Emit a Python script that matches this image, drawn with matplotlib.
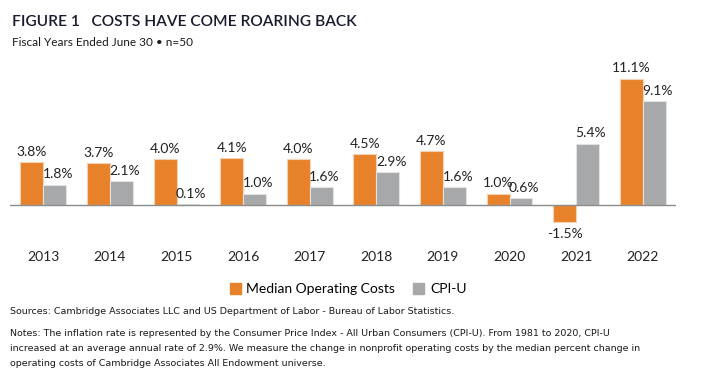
import numpy as np
import matplotlib
matplotlib.use('Agg')
import matplotlib.pyplot as plt
from matplotlib.transforms import blended_transform_factory
from matplotlib.patches import Patch

years = ['2013', '2014', '2015', '2016', '2017', '2018', '2019', '2020', '2021', '2022']
median_costs = [3.8, 3.7, 4.0, 4.1, 4.0, 4.5, 4.7, 1.0, -1.5, 11.1]
cpi_u = [1.8, 2.1, 0.1, 1.0, 1.6, 2.9, 1.6, 0.6, 5.4, 9.1]

orange = '#E8822A'
gray = '#A7A8AA'
W, H = 711, 381

plt.rcParams['font.family'] = ['Lato', 'DejaVu Sans']

fig = plt.figure(figsize=(W / 100, H / 100), dpi=100)
# axes placed in pixel terms: x 10..676, y 70..225 (from top)
ax = fig.add_axes([10 / W, 1 - 225 / H, 666 / W, 155 / H])

x = np.arange(len(years))
bw = 0.345
ax.bar(x - bw / 2, median_costs, bw, color=orange, edgecolor='#F6D2B4', linewidth=0.8)
ax.bar(x + bw / 2, cpi_u, bw, color=gray, edgecolor='#E2E2E3', linewidth=0.8)
ax.axhline(0, color='#8C8C8C', linewidth=1)

ax.set_xlim(-0.5, len(years) - 0.5)
ax.set_ylim(-1.75, 11.85)
ax.axis('off')

lab_fs = 10
for i, v in enumerate(median_costs):
    if v >= 0:
        ax.annotate(f'{v:.1f}%', (i - bw / 2, v), xytext=(0, 3), textcoords='offset points',
                    ha='center', va='bottom', fontsize=lab_fs, color='#222222')
    else:
        ax.annotate(f'{v:.1f}%', (i - bw / 2, v), xytext=(0, -4), textcoords='offset points',
                    ha='center', va='top', fontsize=lab_fs, color='#222222')
for i, v in enumerate(cpi_u):
    ax.annotate(f'{v:.1f}%', (i + bw / 2 + 0.05, v), xytext=(0, 3), textcoords='offset points',
                ha='center', va='bottom', fontsize=lab_fs, color='#222222')

trans = blended_transform_factory(ax.transData, fig.transFigure)
for i, yr in enumerate(years):
    ax.text(i, 1 - 257 / H, yr, transform=trans, ha='center', va='center',
            fontsize=lab_fs, color='#222222')

handles = [Patch(color=orange), Patch(color=gray)]
fig.legend(handles, ['Median Operating Costs', 'CPI-U'], loc='center',
           bbox_to_anchor=(348 / W, 1 - 289 / H), ncol=2, frameon=False,
           fontsize=10, handlelength=0.8, handleheight=0.8, handletextpad=0.4,
           columnspacing=1.3)

fig.text(12 / W, 1 - 22 / H, 'FIGURE 1   COSTS HAVE COME ROARING BACK',
         fontsize=11.2, color='#1a1a2e', va='center', ha='left', fontweight='semibold')
fig.text(12 / W, 1 - 42 / H, 'Fiscal Years Ended June 30 \u2022 n=50',
         fontsize=8.5, color='#1a1a1a', va='center', ha='left')

note_font = ['Liberation Sans Narrow', 'DejaVu Sans']
fig.text(10 / W, 1 - 312 / H,
         'Sources: Cambridge Associates LLC and US Department of Labor - Bureau of Labor Statistics.',
         fontsize=6.8, family=note_font, va='center', ha='left', color='#1a1a1a')
notes = ['Notes: The inflation rate is represented by the Consumer Price Index - All Urban Consumers (CPI-U). From 1981 to 2020, CPI-U',
         'increased at an average annual rate of 2.9%. We measure the change in nonprofit operating costs by the median percent change in',
         'operating costs of Cambridge Associates All Endowment universe.']
for k, line in enumerate(notes):
    fig.text(10 / W, 1 - (333 + 15.5 * k) / H, line, fontsize=6.8, family=note_font,
             va='center', ha='left', color='#1a1a1a')

fig.savefig('out.png', dpi=100)
